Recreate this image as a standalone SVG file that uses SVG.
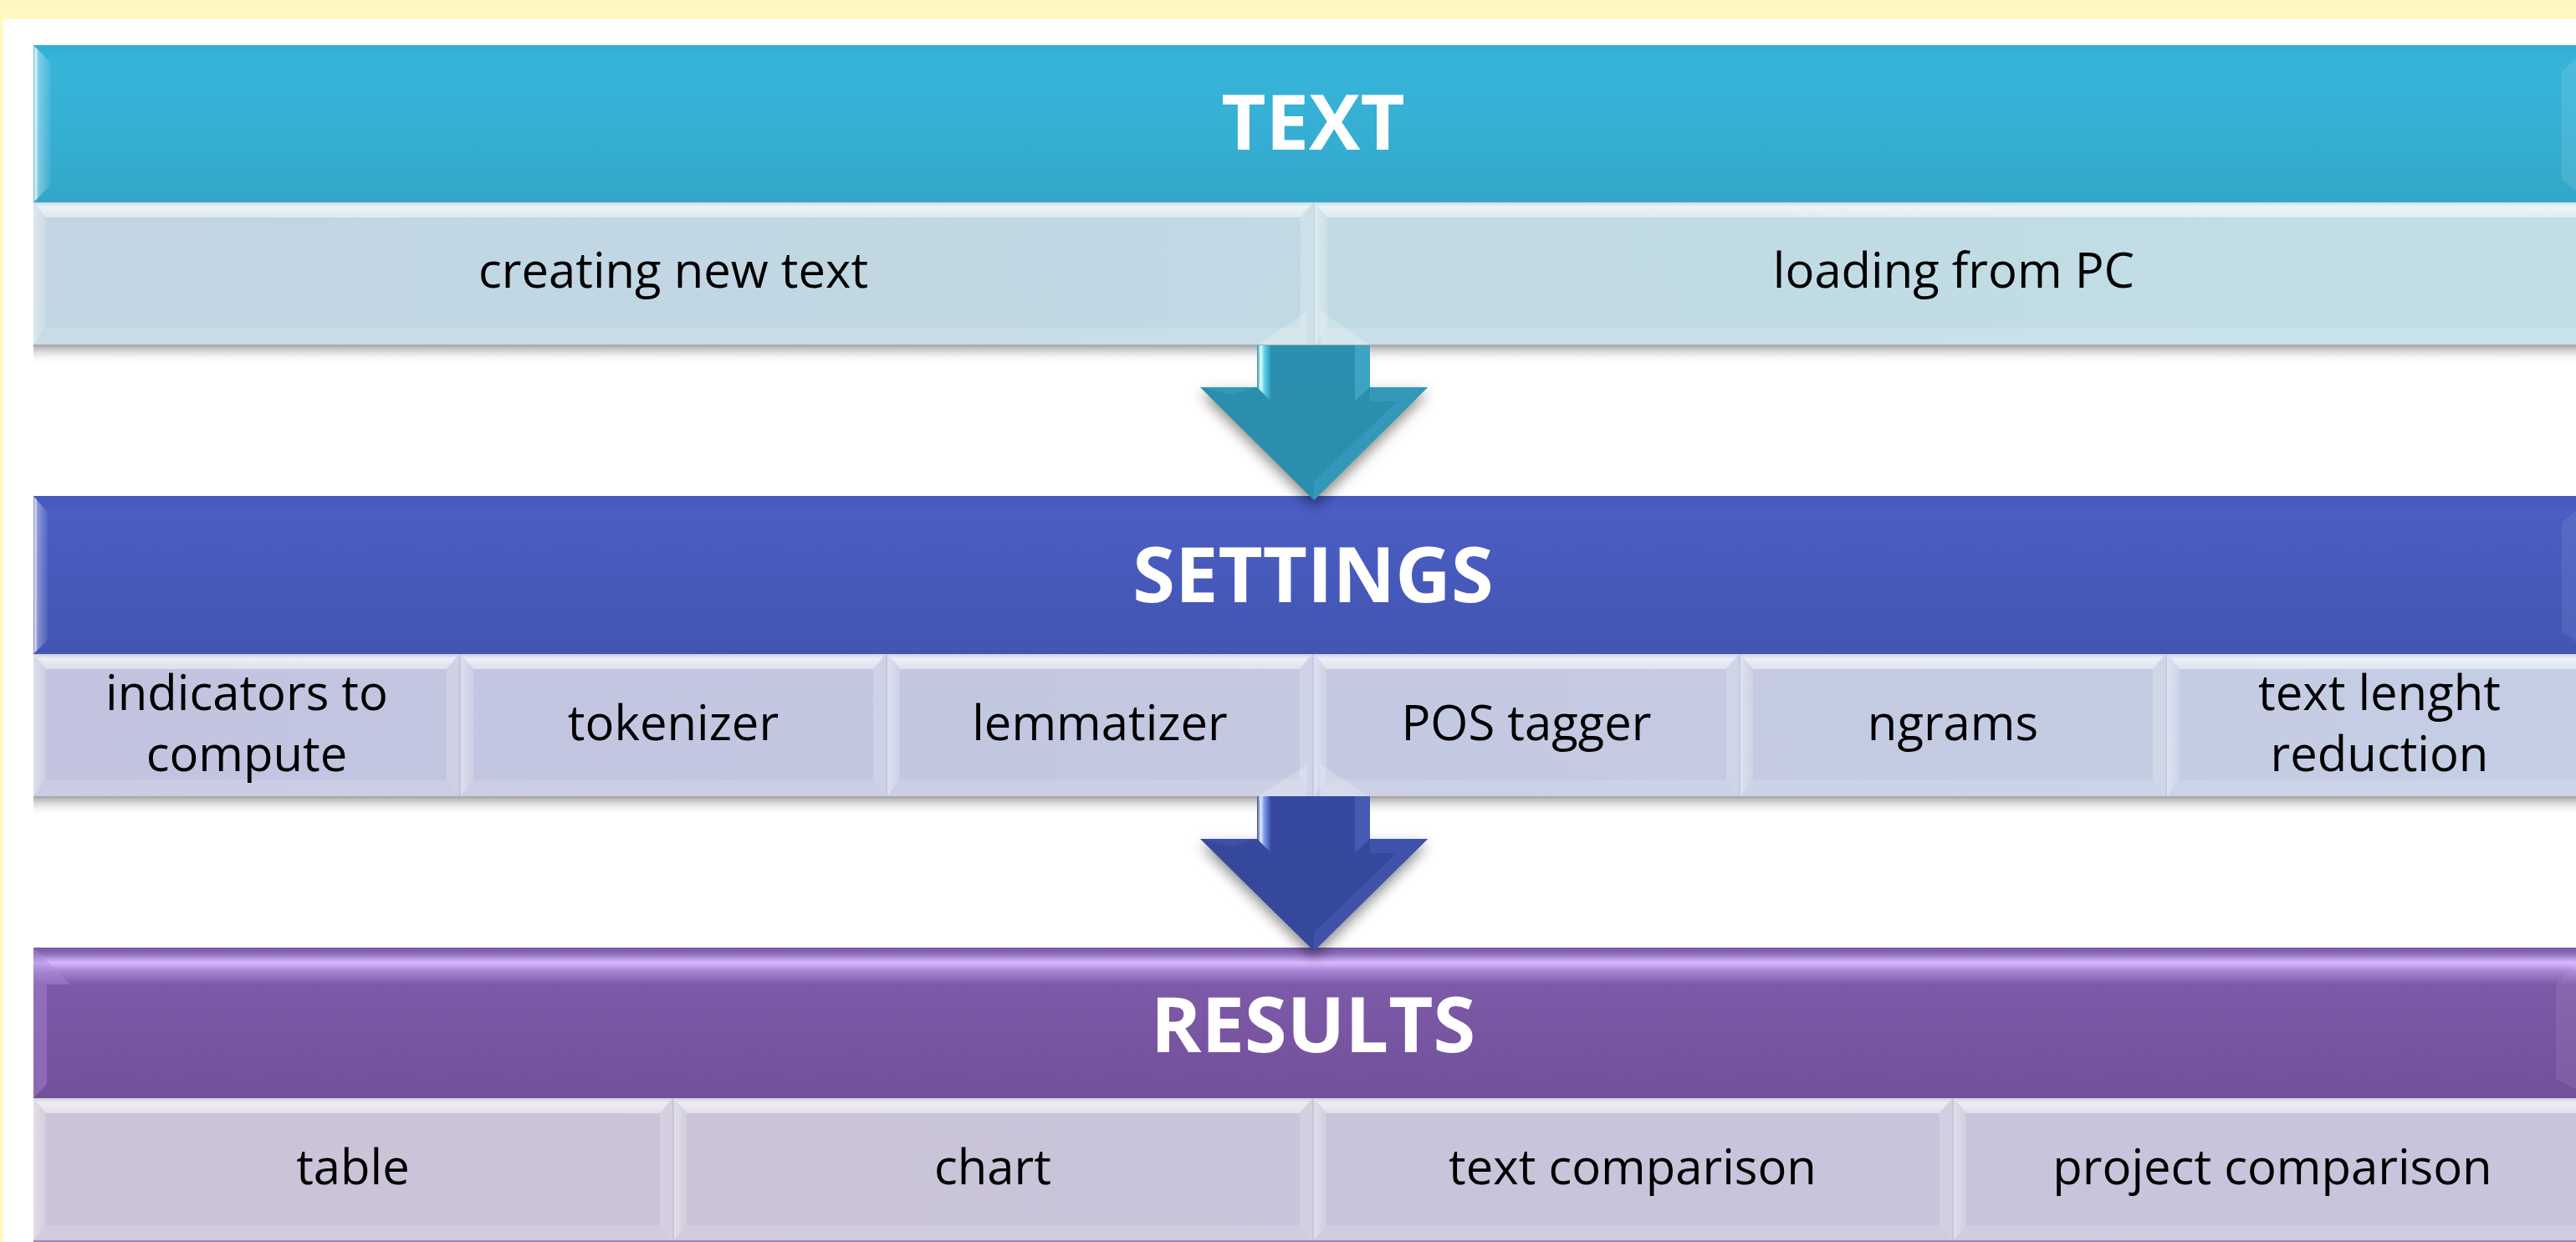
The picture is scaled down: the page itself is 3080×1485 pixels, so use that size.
<svg xmlns="http://www.w3.org/2000/svg" width="3080" height="1485" viewBox="0 0 3080 1485">
<style>
.h{font-family:"Open Sans","Noto Sans",sans-serif;font-weight:700;font-size:92px;fill:#fff;text-anchor:middle}
.t{font-family:"Open Sans","Noto Sans",sans-serif;font-size:58px;fill:#000;text-anchor:middle}
.bt{fill:url(#gTop)}
.bl{fill:url(#gLeft)}
.br{fill:#fff;fill-opacity:.2}
.bb{fill:#fff;fill-opacity:.14}
.sh{fill:url(#gShadow)}
</style>
<defs>
<linearGradient id="gTop" x1="0" y1="0" x2="0" y2="1">
<stop offset="0" stop-color="#fff" stop-opacity=".15"/>
<stop offset=".3" stop-color="#fff" stop-opacity=".7"/>
<stop offset="1" stop-color="#fff" stop-opacity=".45"/>
</linearGradient>
<linearGradient id="gLeft" x1="0" y1="0" x2="1" y2="0">
<stop offset="0" stop-color="#fff" stop-opacity=".45"/>
<stop offset="1" stop-color="#fff" stop-opacity=".15"/>
</linearGradient>
<linearGradient id="gShadow" x1="0" y1="0" x2="0" y2="1">
<stop offset="0" stop-color="#8a8a8a" stop-opacity=".8"/>
<stop offset=".4" stop-color="#b0b0b0" stop-opacity=".4"/>
<stop offset="1" stop-color="#fff" stop-opacity="0"/>
</linearGradient>
<linearGradient id="gHL" x1="0" y1="0" x2="1" y2="0">
<stop offset="0" stop-color="#fff" stop-opacity=".2"/>
<stop offset=".12" stop-color="#fff" stop-opacity=".85"/>
<stop offset=".3" stop-color="#fff" stop-opacity=".35"/>
<stop offset="1" stop-color="#fff" stop-opacity=".05"/>
</linearGradient>
<linearGradient id="gTextH" x1="0" y1="0" x2="0" y2="1">
<stop offset="0" stop-color="#31acd3"/>
<stop offset=".1" stop-color="#38b4da"/>
<stop offset=".6" stop-color="#35aed3"/>
<stop offset=".97" stop-color="#33a7c8"/>
<stop offset="1" stop-color="#3aa5c4"/>
</linearGradient>
<linearGradient id="gSetH" x1="0" y1="0" x2="0" y2="1">
<stop offset="0" stop-color="#4659bd"/>
<stop offset=".1" stop-color="#4a5ec3"/>
<stop offset="1" stop-color="#4255b3"/>
</linearGradient>
<linearGradient id="gResH" x1="0" y1="0" x2="0" y2="1">
<stop offset="0" stop-color="#7657a4"/>
<stop offset=".04" stop-color="#8c6cbd"/>
<stop offset=".1" stop-color="#d9b9ff"/>
<stop offset=".16" stop-color="#a383cf"/>
<stop offset=".25" stop-color="#7c5aa8"/>
<stop offset="1" stop-color="#72509a"/>
</linearGradient>
<linearGradient id="gTextR" x1="0" y1="0" x2="1" y2="0">
<stop offset="0" stop-color="#c1d5e2"/>
<stop offset="1" stop-color="#c1dee6"/>
</linearGradient>
<linearGradient id="gSetR" x1="0" y1="0" x2="1" y2="0">
<stop offset="0" stop-color="#c2c4df"/>
<stop offset="1" stop-color="#c4cee4"/>
</linearGradient>
<linearGradient id="gResR" x1="0" y1="0" x2="1" y2="0">
<stop offset="0" stop-color="#ccc4d8"/>
<stop offset="1" stop-color="#c7c4dc"/>
</linearGradient>
<linearGradient id="gShaftHL1" x1="0" y1="0" x2="1" y2="0">
<stop offset="0" stop-color="#2a8ead"/>
<stop offset=".25" stop-color="#e4ffff"/>
<stop offset=".5" stop-color="#62d4f2"/>
<stop offset="1" stop-color="#2a8ead"/>
</linearGradient>
<linearGradient id="gShaftHL2" x1="0" y1="0" x2="1" y2="0">
<stop offset="0" stop-color="#35489c"/>
<stop offset=".25" stop-color="#e4eeff"/>
<stop offset=".5" stop-color="#7c9cf0"/>
<stop offset="1" stop-color="#35489c"/>
</linearGradient>
<filter id="fBlur" x="-20%" y="-20%" width="140%" height="140%">
<feGaussianBlur stdDeviation="8"/>
</filter>
</defs>

<rect x="0" y="0" width="3080" height="1485" fill="#fff"/>
<rect x="0" y="0" width="3080" height="23" fill="#fff8c3"/>
<rect x="0" y="0" width="4" height="1485" fill="#fff8c3"/>

<!-- TEXT block -->
<g id="text-header">
<rect x="40" y="54" width="3060" height="188" fill="url(#gTextH)"/>
<polygon points="40,54 61,75 61,221 40,242" fill="url(#gHL)"/>
<polygon points="3100,54 3100,242 3063,215 3063,85" fill="#fff" fill-opacity=".1"/>
<text class="h" x="1570" y="179">TEXT</text>
</g>
<rect class="sh" x="40" y="412" width="3060" height="24"/>
<rect x="40" y="242" width="3060" height="170" fill="url(#gTextR)"/>
<g id="text-creating">
<polygon class="bt" points="40,242 1570,242 1555,260 55,260"/>
<polygon class="bl" points="40,242 55,260 55,392 40,412"/>
<polygon class="br" points="1570,242 1570,412 1555,392 1555,260"/>
<polygon class="bb" points="40,412 1570,412 1555,392 55,392"/>
<text class="t" x="805" y="344">creating new text</text>
</g>
<g id="text-loading">
<polygon class="bt" points="1572,242 3100,242 3085,260 1587,260"/>
<polygon class="bl" points="1572,242 1587,260 1587,392 1572,412"/>
<polygon class="br" points="3100,242 3100,412 3085,392 3085,260"/>
<polygon class="bb" points="1572,412 3100,412 3085,392 1587,392"/>
<text class="t" x="2336" y="344">loading from PC</text>
</g>

<!-- SETTINGS block -->
<g id="settings-header">
<rect x="40" y="593" width="3060" height="189" fill="url(#gSetH)"/>
<polygon points="40,593 57,613 57,765 40,782" fill="url(#gHL)"/>
<polygon points="3100,593 3100,782 3063,755 3063,625" fill="#fff" fill-opacity=".08"/>
<text class="h" x="1570" y="720">SETTINGS</text>
</g>
<rect class="sh" x="40" y="952" width="3060" height="24"/>
<rect x="40" y="782" width="3060" height="170" fill="url(#gSetR)"/>
<g id="settings-indicators">
<polygon class="bt" points="40,782 549,782 534,800 55,800"/>
<polygon class="bl" points="40,782 55,800 55,932 40,952"/>
<polygon class="br" points="549,782 549,952 534,932 534,800"/>
<polygon class="bb" points="40,952 549,952 534,932 55,932"/>
<text class="t" x="295" y="849">indicators to</text>
<text class="t" x="295" y="922">compute</text>
</g>
<g id="settings-tokenizer">
<polygon class="bt" points="551,782 1059,782 1044,800 566,800"/>
<polygon class="bl" points="551,782 566,800 566,932 551,952"/>
<polygon class="br" points="1059,782 1059,952 1044,932 1044,800"/>
<polygon class="bb" points="551,952 1059,952 1044,932 566,932"/>
<text class="t" x="805" y="885">tokenizer</text>
</g>
<g id="settings-lemmatizer">
<polygon class="bt" points="1061,782 1569,782 1554,800 1076,800"/>
<polygon class="bl" points="1061,782 1076,800 1076,932 1061,952"/>
<polygon class="br" points="1569,782 1569,952 1554,932 1554,800"/>
<polygon class="bb" points="1061,952 1569,952 1554,932 1076,932"/>
<text class="t" x="1315" y="885">lemmatizer</text>
</g>
<g id="settings-pos">
<polygon class="bt" points="1571,782 2079,782 2064,800 1586,800"/>
<polygon class="bl" points="1571,782 1586,800 1586,932 1571,952"/>
<polygon class="br" points="2079,782 2079,952 2064,932 2064,800"/>
<polygon class="bb" points="1571,952 2079,952 2064,932 1586,932"/>
<text class="t" x="1825" y="885">POS tagger</text>
</g>
<g id="settings-ngrams">
<polygon class="bt" points="2081,782 2589,782 2574,800 2096,800"/>
<polygon class="bl" points="2081,782 2096,800 2096,932 2081,952"/>
<polygon class="br" points="2589,782 2589,952 2574,932 2574,800"/>
<polygon class="bb" points="2081,952 2589,952 2574,932 2096,932"/>
<text class="t" x="2335" y="885">ngrams</text>
</g>
<g id="settings-length">
<polygon class="bt" points="2591,782 3100,782 3085,800 2606,800"/>
<polygon class="bl" points="2591,782 2606,800 2606,932 2591,952"/>
<polygon class="br" points="3100,782 3100,952 3085,932 3085,800"/>
<polygon class="bb" points="2591,952 3100,952 3085,932 2606,932"/>
<text class="t" x="2845" y="849">text lenght</text>
<text class="t" x="2845" y="922">reduction</text>
</g>

<!-- RESULTS block -->
<g id="results-header">
<rect x="40" y="1133" width="3060" height="180" fill="url(#gResH)"/>
<polygon points="40,1133 84,1177 56,1177 56,1296 40,1313" fill="#a888d4" fill-opacity=".45"/>
<polygon points="3100,1133 3056,1177 3056,1290 3100,1313" fill="#fff" fill-opacity=".08"/>
<text class="h" x="1570" y="1258">RESULTS</text>
</g>
<rect x="40" y="1313" width="3060" height="172" fill="url(#gResR)"/>
<g id="results-table">
<polygon class="bt" points="40,1313 804,1313 789,1331 55,1331"/>
<polygon class="bl" points="40,1313 55,1331 55,1465 40,1483"/>
<polygon class="br" points="804,1313 804,1483 789,1465 789,1331"/>
<polygon class="bb" points="40,1483 804,1483 789,1465 55,1465"/>
<text class="t" x="422" y="1416">table</text>
</g>
<g id="results-chart">
<polygon class="bt" points="806,1313 1569,1313 1554,1331 821,1331"/>
<polygon class="bl" points="806,1313 821,1331 821,1465 806,1483"/>
<polygon class="br" points="1569,1313 1569,1483 1554,1465 1554,1331"/>
<polygon class="bb" points="806,1483 1569,1483 1554,1465 821,1465"/>
<text class="t" x="1187" y="1416">chart</text>
</g>
<g id="results-textcomp">
<polygon class="bt" points="1571,1313 2334,1313 2319,1331 1586,1331"/>
<polygon class="bl" points="1571,1313 1586,1331 1586,1465 1571,1483"/>
<polygon class="br" points="2334,1313 2334,1483 2319,1465 2319,1331"/>
<polygon class="bb" points="1571,1483 2334,1483 2319,1465 1586,1465"/>
<text class="t" x="1952" y="1416">text comparison</text>
</g>
<g id="results-projcomp">
<polygon class="bt" points="2336,1313 3100,1313 3085,1331 2351,1331"/>
<polygon class="bl" points="2336,1313 2351,1331 2351,1465 2336,1483"/>
<polygon class="br" points="3100,1313 3100,1483 3085,1465 3085,1331"/>
<polygon class="bb" points="2336,1483 3100,1483 3085,1465 2351,1465"/>
<text class="t" x="2717" y="1416">project comparison</text>
</g>
<rect x="40" y="1483" width="3060" height="2" fill="#9a86bc"/>

<!-- connectors -->
<g id="connectors">
<g id="arrow-text-settings">
<polygon points="1505,412 1563,372 1563,412" fill="#fff" fill-opacity=".22"/>
<polygon points="1579,372 1637,412 1579,412" fill="#fff" fill-opacity=".22"/>
<polygon points="1435,470 1707,470 1571,606" fill="#000" fill-opacity=".45" filter="url(#fBlur)"/>
<rect x="1503" y="413" width="135" height="52" fill="#2b90af"/>
<polygon points="1435,463 1707,463 1571,598" fill="#2a8ead"/>
<polygon points="1503,413 1520,413 1520,480 1503,463" fill="url(#gShaftHL1)"/>
<polygon points="1620,413 1638,413 1638,463 1620,480" fill="#3ca3c3"/>
<polygon points="1638,463 1707,463 1571,598 1571,576 1670,480 1638,480" fill="#3399b8"/>
<polygon points="1435,463 1503,463 1473,472" fill="#3298b6"/>
</g>
<g id="arrow-settings-results">
<polygon points="1505,952 1563,914 1563,952" fill="#fff" fill-opacity=".22"/>
<polygon points="1579,914 1637,952 1579,952" fill="#fff" fill-opacity=".22"/>
<polygon points="1435,1010 1707,1010 1571,1145" fill="#000" fill-opacity=".45" filter="url(#fBlur)"/>
<rect x="1503" y="952" width="135" height="53" fill="#36499e"/>
<polygon points="1435,1003 1707,1003 1571,1137" fill="#35489c"/>
<polygon points="1503,952 1520,952 1520,1020 1503,1003" fill="url(#gShaftHL2)"/>
<polygon points="1620,952 1638,952 1638,1003 1620,1020" fill="#4659b3"/>
<polygon points="1638,1003 1707,1003 1571,1137 1571,1115 1670,1020 1638,1020" fill="#3f53aa"/>
<polygon points="1435,1003 1503,1003 1473,1012" fill="#3e51a8"/>
</g>
</g>
</svg>
